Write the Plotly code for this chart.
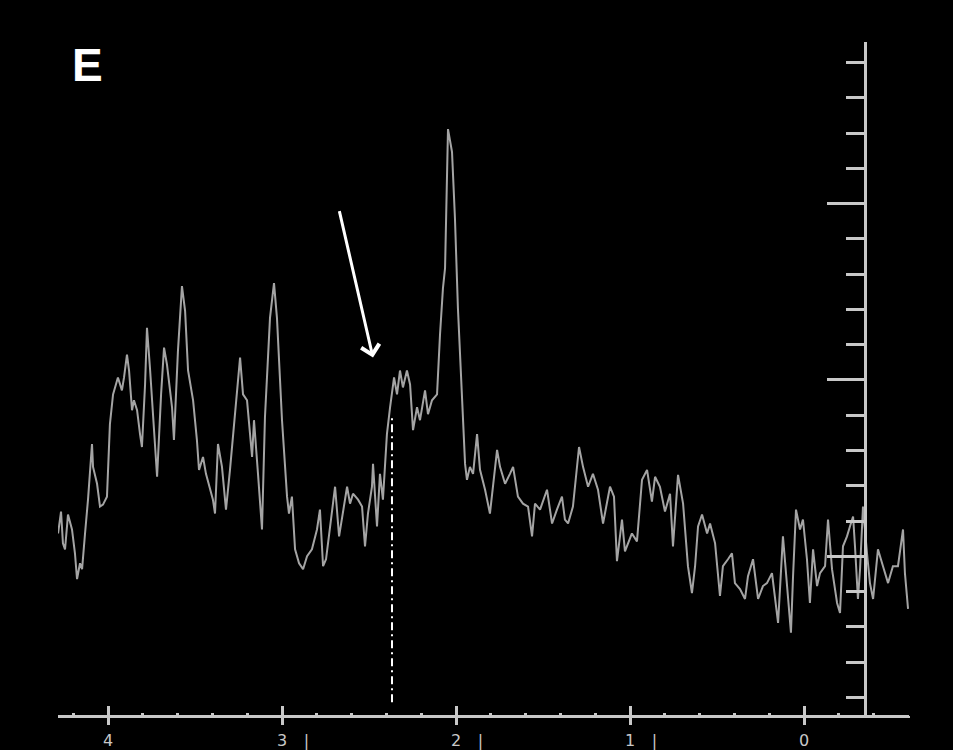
import plotly.graph_objects as go

# chemical shift (ppm) and signal height of the traced spectrum
shift_ppm = [
    4.287, 4.270, 4.259, 4.247, 4.230, 4.207, 4.190, 4.178, 4.161, 4.149,
    4.132, 4.115, 4.092, 4.086, 4.063, 4.046, 4.029, 4.006, 3.989, 3.971,
    3.943, 3.920, 3.908, 3.891, 3.879, 3.862, 3.851, 3.833, 3.816, 3.805,
    3.787, 3.776, 3.759, 3.736, 3.718, 3.695, 3.678, 3.661, 3.632, 3.621,
    3.598, 3.575, 3.557, 3.540, 3.511, 3.489, 3.477, 3.454, 3.437, 3.420,
    3.397, 3.385, 3.368, 3.345, 3.322, 3.299, 3.270, 3.241, 3.224, 3.201,
    3.172, 3.161, 3.138, 3.115, 3.098, 3.069, 3.046, 3.029, 3.000, 2.971,
    2.960, 2.943, 2.925, 2.902, 2.879, 2.856, 2.828, 2.799, 2.782, 2.764,
    2.747, 2.724, 2.695, 2.672, 2.649, 2.626, 2.609, 2.592, 2.563, 2.540,
    2.523, 2.506, 2.483, 2.477, 2.454, 2.437, 2.420, 2.397, 2.379, 2.356,
    2.339, 2.322, 2.305, 2.282, 2.264, 2.247, 2.224, 2.207, 2.178, 2.161,
    2.138, 2.109, 2.092, 2.075, 2.063, 2.046, 2.023, 2.006, 1.989, 1.966,
    1.948, 1.937, 1.920, 1.902, 1.879, 1.862, 1.833, 1.805, 1.764, 1.747,
    1.718, 1.690, 1.672, 1.644, 1.615, 1.586, 1.563, 1.546, 1.517, 1.477,
    1.448, 1.420, 1.391, 1.374, 1.356, 1.328, 1.293, 1.270, 1.241, 1.213,
    1.184, 1.155, 1.115, 1.092, 1.075, 1.046, 1.029, 0.989, 0.960, 0.931,
    0.902, 0.874, 0.856, 0.828, 0.799, 0.770, 0.753, 0.724, 0.695, 0.667,
    0.644, 0.626, 0.609, 0.586, 0.557, 0.540, 0.511, 0.483, 0.466, 0.437,
    0.414, 0.397, 0.368, 0.339, 0.322, 0.293, 0.264, 0.236, 0.213, 0.184,
    0.167, 0.149, 0.121, 0.098, 0.075, 0.063, 0.046, 0.023, 0.006, -0.017,
    -0.034, -0.052, -0.075, -0.092, -0.121, -0.138, -0.161, -0.190, -0.207, -0.224,
    -0.247, -0.264, -0.282, -0.293, -0.310, -0.322, -0.339, -0.362, -0.379, -0.397,
    -0.425, -0.454, -0.483, -0.511, -0.540, -0.569, -0.580, -0.598,
]
signal = [
    183, 205, 173, 167, 202, 187, 163, 137, 153, 147,
    183, 217, 273, 250, 233, 210, 212, 220, 293, 323,
    340, 327, 340, 363, 347, 307, 317, 307, 283, 270,
    333, 390, 350, 293, 240, 323, 370, 353, 310, 277,
    367, 432, 407, 347, 317, 277, 247, 260, 243, 232,
    217, 203, 273, 250, 207, 247, 300, 360, 323, 317,
    260, 297, 243, 187, 300, 400, 435, 400, 297, 220,
    203, 220, 167, 153, 147, 160, 167, 187, 207, 150,
    157, 190, 230, 180, 207, 230, 213, 223, 217, 210,
    170, 203, 230, 253, 190, 243, 217, 283, 310, 340,
    323, 347, 330, 347, 333, 287, 310, 297, 327, 303,
    317, 323, 383, 430, 450, 590, 567, 500, 410, 327,
    253, 237, 250, 243, 283, 247, 227, 203, 267, 250,
    233, 243, 250, 220, 213, 210, 180, 213, 207, 227,
    193, 207, 220, 197, 193, 210, 270, 250, 230, 243,
    227, 193, 230, 220, 155, 197, 165, 183, 175, 237,
    247, 215, 240, 230, 205, 223, 170, 242, 213, 150,
    123, 150, 190, 202, 183, 193, 173, 120, 150, 157,
    163, 133, 127, 117, 140, 157, 117, 130, 133, 143,
    117, 93, 180, 127, 83, 140, 207, 187, 197, 157,
    113, 167, 130, 143, 150, 197, 147, 113, 103, 170,
    180, 190, 200, 170, 117, 147, 210, 163, 133, 117,
    167, 150, 133, 150, 150, 187, 143, 107,
]

# marked position (dotted line) and arrow tip
marker_ppm = 2.368
marker_span = [13, 303]
arrow_ppm = 2.477
arrow_height = 360

tick_vals = [4, 3, 2.86, 2, 1.86, 1, 0.86, 0]
tick_text = ["4", "3", "|", "2", "|", "1", "|", "0"]

x_range = [4.2874, -0.6034]
x_domain = [58 / 953, 909 / 953]
axis_col = "#c8c8c8"

fig = go.Figure()
# empty traces so the extra axes get drawn
fig.add_trace(go.Scatter(x=[], y=[], xaxis="x", yaxis="y2", showlegend=False))
fig.add_trace(go.Scatter(x=[], y=[], xaxis="x2", yaxis="y", showlegend=False))
fig.add_trace(go.Scatter(x=[], y=[], xaxis="x3", yaxis="y", showlegend=False))

fig.add_trace(go.Scatter(x=shift_ppm, y=signal, mode="lines",
                         line=dict(color="#a4a4a4", width=2), showlegend=False))
fig.add_trace(go.Scatter(x=[marker_ppm, marker_ppm], y=marker_span, mode="lines",
                         line=dict(color="white", width=2, dash="8px,4px,2px,4px"),
                         showlegend=False))

fig.add_annotation(x=arrow_ppm, y=arrow_height, xref="x", yref="y", ax=-34, ay=-148,
                   showarrow=True, arrowhead=4, arrowsize=1.2, arrowwidth=3,
                   arrowcolor="white", text="")
fig.add_annotation(x=87 / 953, y=1 - 65 / 750, xref="paper", yref="paper",
                   text="<b>E</b>", showarrow=False, xanchor="center", yanchor="middle",
                   font=dict(family="Liberation Sans", size=46, color="white"))

fig.update_layout(
    width=953, height=750,
    margin=dict(l=0, r=0, t=0, b=0),
    paper_bgcolor="black", plot_bgcolor="rgba(0,0,0,0)",
    xaxis=dict(range=x_range, domain=x_domain, anchor="y",
               showline=True, linecolor=axis_col, linewidth=3,
               showgrid=False, zeroline=False, ticks="",
               tickmode="array", tickvals=tick_vals, ticktext=tick_text,
               ticklabelstandoff=9,
               tickfont=dict(family="DejaVu Sans", size=16, color=axis_col)),
    xaxis2=dict(range=x_range, overlaying="x", anchor="y", side="bottom",
                showline=False, showgrid=False, zeroline=False, showticklabels=False,
                ticks="outside", ticklen=9, tickwidth=3, tickcolor=axis_col,
                tickmode="linear", tick0=0, dtick=1,
                minor=dict(ticks="outside", ticklen=2, tickwidth=3, tickcolor=axis_col,
                           tick0=0, dtick=0.2, showgrid=False)),
    xaxis3=dict(range=x_range, overlaying="x", anchor="y", side="bottom",
                showline=False, showgrid=False, zeroline=False, showticklabels=False,
                ticks="inside", ticklen=9, tickwidth=3, tickcolor=axis_col,
                tickmode="linear", tick0=0, dtick=1,
                minor=dict(ticks="inside", ticklen=2, tickwidth=3, tickcolor=axis_col,
                           tick0=0, dtick=0.2, showgrid=False)),
    yaxis=dict(range=[0, 720], domain=[0.04, 1], visible=False),
    yaxis2=dict(range=[0, 678], domain=[0.04, 1 - 42 / 750], anchor="free",
                position=865 / 953, side="right",
                showline=True, linecolor=axis_col, linewidth=3,
                showgrid=False, zeroline=False, showticklabels=False,
                ticks="inside", ticklen=37, tickwidth=3, tickcolor=axis_col,
                tickmode="linear", tick0=160, dtick=177.5,
                minor=dict(ticks="inside", ticklen=18, tickwidth=3, tickcolor=axis_col,
                           tick0=18, dtick=35.5, showgrid=False)),
    showlegend=False,
)

fig.write_html("out.html", config={"displayModeBar": False},
               post_script="document.body.style.margin='0';")
